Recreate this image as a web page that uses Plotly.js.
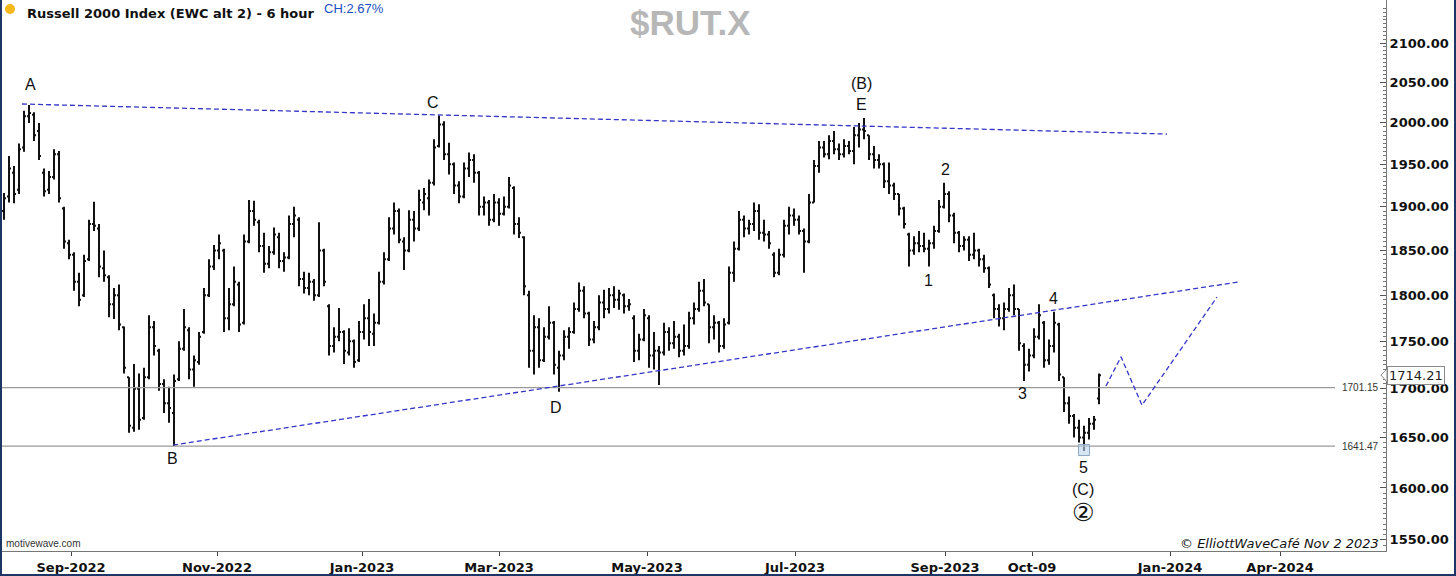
<!DOCTYPE html>
<html><head><meta charset="utf-8">
<script src="https://cdn.plot.ly/plotly-3.0.1.min.js"></script>
<style>
html,body{margin:0;padding:0;background:#fff;overflow:hidden}
#wrap{position:relative;width:1456px;height:576px}
#chart{width:1456px;height:576px}
#frame{position:absolute;left:0;top:0;width:1456px;height:576px;box-sizing:border-box;border-left:2px solid #1c3766;border-right:2px solid #1c3766;border-bottom:2px solid #1c3766;pointer-events:none}
</style></head><body>
<div id="wrap"><div id="chart"></div><div id="frame"></div></div>
<script>
// ---- OHLC bars (6-hour Russell 2000) ----
const opens = [
1895,1912,1940,1920,1970,2008,2010,1990,1940,1920,
1935,1962,1898,1858,1845,1815,1800,1840,1880,1875,
1830,1820,1790,1800,1765,1712,1660,1700,1670,1712,
1765,1740,1705,1685,1675,1710,1742,1762,1720,1728,
1760,1800,1832,1850,1850,1775,1790,1812,1770,1860,
1895,1882,1855,1835,1848,1865,1838,1842,1880,1885,
1818,1808,1815,1800,1850,1788,1745,1755,1760,1738,
1750,1730,1760,1775,1758,1770,1815,1840,1875,1895,
1860,1850,1885,1875,1905,1910,1928,1972,1998,1962,
1950,1925,1912,1945,1955,1940,1900,1905,1885,1905,
1892,1900,1922,1880,1865,1800,1740,1765,1730,1755,
1770,1722,1735,1755,1760,1785,1805,1780,1752,1765,
1792,1785,1800,1795,1800,1788,1775,1740,1752,1775,
1735,1740,1738,1760,1748,1755,1740,1745,1775,1785,
1805,1790,1765,1770,1745,1770,1825,1852,1885,1875,
1880,1895,1870,1868,1845,1825,1845,1878,1890,1885,
1872,1860,1905,1948,1970,1962,1978,1968,1962,1972,
1966,1985,1992,1985,1962,1955,1950,1930,1925,1915,
1898,1868,1850,1858,1855,1852,1858,1872,1900,1915,
1890,1870,1855,1862,1845,1850,1840,1830,1800,1785,
1775,1785,1800,1785,1745,1725,1735,1755,1770,1730,
1745,1768,1712,1685,1672,1660,1650,1655,1664,1690];
const highs = [
1916,1960,1948,1975,2015,2022,2013,2000,1945,1942,
1968,1966,1900,1862,1848,1825,1845,1885,1906,1880,
1850,1822,1808,1812,1766,1712,1726,1716,1722,1778,
1772,1742,1710,1702,1715,1750,1785,1765,1735,1760,
1808,1840,1856,1868,1852,1808,1832,1815,1868,1908,
1907,1885,1870,1855,1876,1870,1848,1890,1900,1888,
1826,1825,1818,1882,1852,1790,1765,1786,1762,1764,
1752,1772,1790,1796,1780,1826,1848,1888,1905,1898,
1865,1896,1895,1920,1922,1932,1980,2009,2002,1976,
1952,1930,1952,1964,1962,1942,1912,1908,1915,1910,
1912,1935,1924,1888,1866,1805,1778,1775,1765,1788,
1772,1740,1762,1765,1792,1814,1810,1782,1772,1800,
1806,1808,1810,1806,1802,1796,1778,1758,1785,1778,
1760,1745,1770,1765,1772,1758,1768,1782,1792,1815,
1818,1790,1778,1772,1775,1832,1860,1895,1890,1885,
1905,1903,1885,1872,1848,1852,1885,1900,1898,1890,
1875,1915,1955,1978,1978,1985,1990,1975,1980,1978,
1995,2000,2006,1985,1972,1962,1952,1952,1928,1915,
1900,1870,1866,1872,1870,1862,1878,1908,1928,1918,
1893,1872,1866,1866,1870,1852,1845,1832,1802,1790,
1792,1808,1812,1785,1748,1742,1764,1790,1772,1752,
1782,1770,1712,1692,1674,1668,1662,1670,1672,1716];
const lows = [
1885,1905,1904,1915,1965,2000,1978,1955,1912,1915,
1932,1905,1852,1840,1805,1788,1798,1838,1872,1820,
1815,1776,1774,1762,1716,1655,1656,1658,1668,1710,
1735,1698,1675,1665,1641.47,1708,1740,1710,1702,1725,
1758,1798,1828,1840,1760,1762,1788,1760,1768,1858,
1878,1848,1825,1830,1845,1830,1826,1840,1865,1810,
1802,1800,1794,1798,1810,1735,1738,1750,1726,1735,
1722,1728,1752,1745,1745,1768,1812,1838,1868,1858,
1828,1848,1860,1872,1896,1890,1925,1970,1955,1938,
1915,1904,1910,1935,1928,1890,1890,1878,1882,1878,
1890,1898,1868,1864,1800,1722,1715,1722,1728,1752,
1715,1697,1730,1742,1758,1782,1775,1745,1748,1762,
1775,1780,1786,1784,1780,1783,1728,1730,1750,1722,
1720,1704,1735,1740,1742,1733,1735,1742,1768,1782,
1788,1748,1752,1738,1742,1768,1815,1850,1865,1868,
1872,1862,1860,1852,1820,1822,1842,1868,1878,1868,
1825,1858,1905,1940,1958,1956,1962,1955,1958,1962,
1950,1970,1980,1955,1945,1945,1922,1915,1908,1890,
1875,1832,1845,1848,1848,1832,1852,1870,1898,1882,
1858,1848,1850,1838,1840,1832,1825,1808,1775,1766,
1762,1782,1778,1740,1708,1718,1732,1752,1722,1725,
1738,1708,1676,1664,1650,1645,1636.5,1648,1658,1684];
const closes = [
1910,1945,1915,1968,2008,2012,1985,1960,1918,1935,
1962,1910,1860,1845,1815,1795,1838,1880,1878,1832,
1822,1790,1800,1768,1722,1662,1700,1668,1712,1765,
1745,1705,1685,1680,1708,1742,1765,1720,1730,1755,
1800,1832,1850,1858,1775,1790,1815,1768,1860,1895,
1885,1855,1835,1848,1868,1838,1842,1880,1890,1818,
1808,1815,1800,1850,1815,1745,1755,1760,1740,1750,
1728,1760,1775,1760,1770,1815,1840,1875,1895,1862,
1850,1885,1875,1908,1915,1928,1970,1998,1962,1950,
1925,1912,1945,1955,1940,1900,1905,1885,1905,1892,
1900,1925,1880,1870,1810,1740,1765,1730,1755,1770,
1725,1735,1755,1760,1785,1805,1780,1752,1765,1792,
1785,1800,1795,1802,1788,1790,1740,1752,1778,1735,
1740,1738,1760,1748,1755,1740,1745,1775,1785,1805,
1792,1765,1770,1745,1768,1825,1852,1885,1875,1880,
1895,1870,1868,1858,1825,1845,1878,1890,1885,1872,
1860,1905,1948,1970,1962,1978,1968,1962,1972,1966,
1985,1992,1990,1962,1955,1950,1930,1925,1915,1898,
1880,1850,1858,1855,1852,1858,1872,1900,1915,1890,
1870,1855,1862,1845,1850,1840,1830,1812,1785,1775,
1785,1800,1785,1748,1725,1735,1755,1778,1730,1745,
1770,1715,1685,1672,1660,1650,1655,1664,1668,1714.21];

// x-axis ticks (bar-index positions) and labels
const xTickPos = [13.4, 42.6, 71.6, 99, 128.6, 158.2, 188.2, 205.6, 233.2, 255.2];
const xTickText = ['Sep-2022','Nov-2022','Jan-2023','Mar-2023','May-2023','Jul-2023','Sep-2023','Oct-09','Jan-2024','Apr-2024'];
// y-axis ticks
const yTickVals = [1550,1600,1650,1700,1750,1800,1850,1900,1950,2000,2050,2100];
const yTickText = ['1550.00','1600.00','1650.00','1700.00','1750.00','1800.00','1850.00','1900.00','1950.00','2000.00','2050.00','2100.00'];

// horizontal levels
const levelPrices = [1701.15, 1641.47];
const levelLabels = ['1701.15', '1641.47'];
const levelEndX = 266.2;
// trend lines (triangle) and projection
const upperLineX = [3.6, 232.6];
const upperLineY = [2023.2, 1986.4];
const lowerLineX = [33.8, 246.8];
const lowerLineY = [1642.5, 1814.6];
const projX = [220.4, 223.4, 227.6, 242.6];
const projY = [1702.8, 1733.5, 1683.0, 1798.0];
// wave labels
const waveText  = ['A','B','C','D','(B)','E','1','2','3','4','5','(C)'];
const waveX     = [5.2, 33.6, 85.8, 110.4, 171.4, 171.4, 184.8, 188.2, 203.6, 209.8, 215.8, 215.8];
const wavePrice = [2048, 1628.6, 2025.6, 1681, 2049.3, 2023.2, 1816.8, 1944.3, 1695.5, 1796.9, 1620.6, 1598];
const circledText = '②';
const circledX = 215.8, circledPrice = 1576.6;
const lastPrice = 1714.21;
const lowMarkX = [216], lowMarkY = [1637.5];

const barX = opens.map((_, i) => i);

// pixel -> paper helpers (plot area: x 2..1386, y 0..551)
const PL = 2, PW = 1384, PH = 551;
const px = v => (v - PL) / PW;
const py = v => 1 - v / PH;

const blue = '#3535c8';
const traces = [];
levelPrices.forEach(p => traces.push({x:[-0.4, levelEndX], y:[p, p], mode:'lines', line:{color:'#9a9a9a', width:1.2}, hoverinfo:'skip'}));
traces.push({x:upperLineX, y:upperLineY, mode:'lines', line:{color:blue, width:1.3, dash:'5px,3px'}, hoverinfo:'skip'});
traces.push({x:lowerLineX, y:lowerLineY, mode:'lines', line:{color:blue, width:1.3, dash:'5px,3px'}, hoverinfo:'skip'});
traces.push({x:projX, y:projY, mode:'lines', line:{color:blue, width:1.3, dash:'5px,3px'}, hoverinfo:'skip'});
traces.push({x:lowMarkX, y:lowMarkY, mode:'markers', marker:{symbol:'square', size:11, color:'rgba(185,212,235,0.6)', line:{color:'#8ea6c0', width:1}}, hoverinfo:'skip'});
traces.push({type:'ohlc', x:barX, open:opens, high:highs, low:lows, close:closes,
  increasing:{line:{color:'#111', width:2}}, decreasing:{line:{color:'#111', width:2}},
  tickwidth:0.4, hoverinfo:'skip'});

const minorVals = [];
for (let v = 1540; v <= 2155; v += 5) if (v % 50 !== 0) minorVals.push(v);

const ann = [];
waveText.forEach((t, i) => ann.push({x:waveX[i], y:Math.log10(wavePrice[i]), xref:'x', yref:'y', text:t, showarrow:false,
  font:{family:'Liberation Sans, Arial, sans-serif', size:16, color:'#111'}}));
ann.push({x:circledX, y:Math.log10(circledPrice), xref:'x', yref:'y', text:circledText, showarrow:false,
  font:{family:'DejaVu Sans, sans-serif', size:25, color:'#111'}});
levelPrices.forEach((p, i) => ann.push({x:levelEndX + 1, y:Math.log10(p), xref:'x', yref:'y', xanchor:'left', text:levelLabels[i], showarrow:false,
  font:{family:'Liberation Sans, Arial, sans-serif', size:10, color:'#333'}}));
ann.push({x:px(1387), y:Math.log10(lastPrice), xref:'paper', yref:'y', xanchor:'left', text:String(lastPrice), showarrow:false,
  bgcolor:'#fff', bordercolor:'#8a8a8a', borderwidth:1, borderpad:1,
  font:{family:'DejaVu Sans, sans-serif', size:13, color:'#222'}});
ann.push({x:px(25), y:py(13), xref:'paper', yref:'paper', xanchor:'left', yanchor:'middle', text:'Russell 2000 Index (EWC alt 2) - 6 hour', showarrow:false,
  font:{family:'DejaVu Sans, Verdana, sans-serif', size:13, color:'#111', weight:'bold'}});
ann.push({x:px(322), y:py(9), xref:'paper', yref:'paper', xanchor:'left', yanchor:'middle', text:'CH:2.67%', showarrow:false,
  font:{family:'Liberation Sans, Arial, sans-serif', size:13, color:'#1d4fc0'}});
ann.push({x:px(690), y:py(23), xref:'paper', yref:'paper', xanchor:'center', yanchor:'middle', text:'$RUT.X', showarrow:false,
  font:{family:'Liberation Sans, Arial, sans-serif', size:35, color:'#b7b7b7', weight:'bold'}});
ann.push({x:px(4), y:py(543), xref:'paper', yref:'paper', xanchor:'left', yanchor:'middle', text:'motivewave.com', showarrow:false,
  font:{family:'Liberation Sans Narrow, Liberation Sans, Arial, sans-serif', size:10, color:'#333'}});
ann.push({x:px(1381), y:py(543), xref:'paper', yref:'paper', xanchor:'right', yanchor:'middle', text:'© ElliottWaveCafé Nov 2 2023', showarrow:false,
  font:{family:'DejaVu Sans, Verdana, sans-serif', size:13, color:'#111', style:'italic'}});

const shapes = [
  {type:'circle', xref:'paper', yref:'paper', x0:px(5), x1:px(15), y0:py(14), y1:py(4), fillcolor:'#f6b719', line:{width:0}},
  {type:'path', xref:'paper', yref:'paper', path:`M ${px(1381)},${py(375)} L ${px(1387)},${py(369)} L ${px(1387)},${py(382)} Z`, fillcolor:'#fff', line:{color:'#8a8a8a', width:1}}
];

const layout = {
  width:1456, height:576, margin:{l:2, r:70, t:0, b:25},
  paper_bgcolor:'#fff', plot_bgcolor:'#fff', showlegend:false, hovermode:false,
  xaxis:{range:[-0.4, 276.4], tickmode:'array', tickvals:xTickPos, ticktext:xTickText,
    ticks:'outside', ticklen:4, tickcolor:'#444', showline:true, linecolor:'#777', linewidth:1,
    showgrid:false, zeroline:false, rangeslider:{visible:false}, fixedrange:true,
    tickfont:{family:'DejaVu Sans, Verdana, sans-serif', size:13, color:'#111', weight:'bold'}},
  yaxis:{type:'log', side:'right', range:[Math.log10(1539.5), Math.log10(2156)],
    tickmode:'array', tickvals:yTickVals, ticktext:yTickText,
    ticks:'inside', ticklen:6, tickcolor:'#555', showline:true, linecolor:'#777', linewidth:1,
    showgrid:false, zeroline:false, fixedrange:true,
    minor:{tickmode:'array', tickvals:minorVals, ticks:'inside', ticklen:3, tickcolor:'#777', showgrid:false},
    tickfont:{family:'DejaVu Sans, Verdana, sans-serif', size:13, color:'#111', weight:'bold'}},
  annotations:ann, shapes:shapes
};
Plotly.newPlot('chart', traces, layout, {staticPlot:true, displayModeBar:false});
</script>
</body></html>
